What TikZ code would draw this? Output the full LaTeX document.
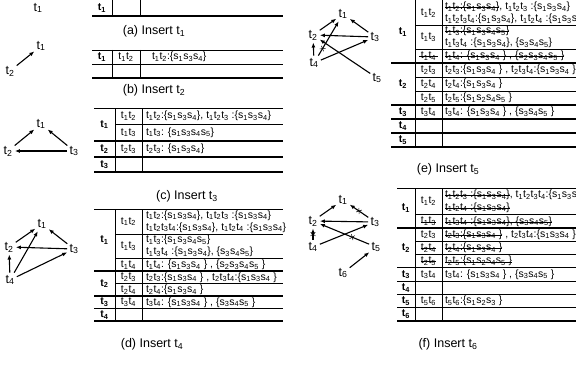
\documentclass[tikz,border=0pt]{standalone}
\usepackage{fontspec}
\setmainfont{Liberation Sans}
\usetikzlibrary{arrows.meta,decorations.markings}
\newcommand\tk[1]{t\textsubscript{#1}}
\newcommand\sk[1]{s\textsubscript{#1}}
% struck-through text
\newcommand\strk[1]{\sbox0{#1}\rlap{\rule[0.32ex]{\wd0}{0.55pt}}\usebox0}
\begin{document}
\begin{tikzpicture}[x=1pt,y=-1pt,
  every node/.style={inner sep=0pt, outer sep=0pt},
  lbl/.style={font=\fontsize{12.5}{14}\selectfont, inner sep=1.5pt},
  capn/.style={font=\fontsize{12.5}{14}\selectfont},
  txt/.style={anchor=west, font=\fontsize{10.5}{12}\selectfont},
  key/.style={font=\fontsize{10.5}{12}\selectfont},
  hd/.style={font=\bfseries\fontsize{10.5}{12}\selectfont},
  rule/.style={line width=0.7pt},
  grule/.style={line width=1.2pt},
  arr/.style={-{Latex[length=5pt,width=4pt]}, line width=1.1pt, shorten >=1pt, shorten <=1pt},
  crossed/.style={postaction={decorate}, decoration={markings, mark=at position #1 with {\draw[-, line width=0.5pt, shorten >=0pt, shorten <=0pt] (-1.8pt,-2.4pt)--(1.8pt,2.4pt) (-1.8pt,2.4pt)--(1.8pt,-2.4pt);}}}
]
\useasboundingbox (0,0) rectangle (576,369);

% ---------- (a) ----------
\node[lbl] (a1) at (38,8) {\tk1};
\draw[rule] (112,0)--(112,16) (140,0)--(140,16);
\draw[grule] (92,16)--(283,16);
\node[hd] (ta1) at (102,8) {\tk1};
\node[capn] (capa) at (154,31) {(a) Insert \tk1};

% ---------- (b) ----------
\node[lbl] (b1) at (41,46) {\tk1};
\node[lbl] (b2) at (10,71) {\tk2};
\draw[arr] (b2) -- (b1);
\draw[rule] (92,50)--(283,50) (92,64)--(283,64);
\draw[grule] (92,78)--(283,78);
\draw[rule] (112,50)--(112,78) (140,50)--(140,78);
\node[hd] (tb1) at (102,57) {\tk1};
\node[key] (tb12) at (126,57) {\tk1\tk2};
\node[txt] (tb12x) at (152,57) {\tk1\tk2:\{\sk1\sk3\sk4\}};
\node[capn] (capb) at (154,90) {(b) Insert \tk2};

% ---------- (c) ----------
\node[lbl] (c1) at (41,124) {\tk1};
\node[lbl] (c2) at (8,151) {\tk2};
\node[lbl] (c3) at (74,151) {\tk3};
\draw[arr] (c2) -- (c1);
\draw[arr] (c3) -- (c1);
\draw[arr] (c3) -- (c2);
\draw[rule] (94,108)--(283,108) (115,124)--(283,124);
\draw[grule] (94,141)--(283,141) (94,157)--(283,157) (94,172)--(283,172);
\draw[rule] (115,108)--(115,172) (142,108)--(142,172);
\node[hd] (tc1) at (104.5,124.5) {\tk1};
\node[key] (tc12) at (128.5,116) {\tk1\tk2};
\node[txt] (tc12x) at (146,116) {\tk1\tk2:\{\sk1\sk3\sk4\}, \tk1\tk2\tk3 :\{\sk1\sk3\sk4\}};
\node[key] (tc13) at (128.5,132.5) {\tk1\tk3};
\node[txt] (tc13x) at (146,132.5) {\tk1\tk3: \{\sk1\sk3\sk4\sk5\}};
\node[hd] (tc2) at (104.5,149) {\tk2};
\node[key] (tc23) at (128.5,149) {\tk2\tk3};
\node[txt] (tc23x) at (146,149) {\tk2\tk3: \{\sk1\sk3\sk4\}};
\node[hd] (tc3) at (104.5,164.5) {\tk3};
\node[capn] (capc) at (187,196) {(c) Insert \tk3};

% ---------- (d) ----------
\node[lbl] (d1) at (42,224) {\tk1};
\node[lbl] (d2) at (9,247) {\tk2};
\node[lbl] (d3) at (74,249) {\tk3};
\node[lbl] (d4) at (10,280) {\tk4};
\draw[arr] (d2) -- (d1);
\draw[arr] (d3) -- (d1);
\draw[arr] (d3) -- (d2);
\draw[arr] (d4) -- (d2);
\draw[arr] (d4) -- (d1);
\draw[arr] (d4) -- (d3);
\draw[rule] (94,209)--(283,209) (115,234)--(283,234) (115,258.5)--(283,258.5) (115,283.5)--(283,283.5);
\draw[grule] (94,271)--(283,271) (94,296)--(283,296) (94,308.5)--(283,308.5) (94,321)--(283,321);
\draw[rule] (115,209)--(115,321) (142,209)--(142,321);
\node[hd] (td1) at (104.5,240) {\tk1};
\node[key] (td12) at (128.5,221.5) {\tk1\tk2};
\node[txt] (td12x) at (146,215.5) {\tk1\tk2:\{\sk1\sk3\sk4\}, \tk1\tk2\tk3 :\{\sk1\sk3\sk4\}};
\node[txt] (td12y) at (146,227.5) {\tk1\tk2\tk3\tk4:\{\sk1\sk3\sk4\}, \tk1\tk2\tk4 :\{\sk1\sk3\sk4\}};
\node[key] (td13) at (128.5,246) {\tk1\tk3};
\node[txt] (td13x) at (146,240) {\tk1\tk3:\{\sk1\sk3\sk4\sk5\}};
\node[txt] (td13y) at (146,252) {\tk1\tk3\tk4 :\{\sk1\sk3\sk4\}, \{\sk3\sk4\sk5\}};
\node[key] (td14) at (128.5,265) {\tk1\tk4};
\node[txt] (td14x) at (146,265) {\tk1\tk4: \{\sk1\sk3\sk4 \} , \{\sk2\sk3\sk4\sk5 \}};
\node[hd] (td2) at (104.5,283.5) {\tk2};
\node[key] (td23) at (128.5,277.3) {\tk2\tk3};
\node[txt] (td23x) at (146,277.3) {\tk2\tk3:\{\sk1\sk3\sk4 \} , \tk2\tk3\tk4:\{\sk1\sk3\sk4 \}};
\node[key] (td24) at (128.5,289.8) {\tk2\tk4};
\node[txt] (td24x) at (146,289.8) {\tk2\tk4:\{\sk1\sk3\sk4 \}};
\node[hd] (td3) at (104.5,302.3) {\tk3};
\node[key] (td34) at (128.5,302.3) {\tk3\tk4};
\node[txt] (td34x) at (146,302.3) {\tk3\tk4: \{\sk1\sk3\sk4 \} , \{\sk3\sk4\sk5 \}};
\node[hd] (td4) at (104.5,314.8) {\tk4};
\node[capn] (capd) at (152,344) {(d) Insert \tk4};

% ---------- (e) ----------
\node[lbl] (e1) at (343,14) {\tk1};
\node[lbl] (e2) at (313,35) {\tk2};
\node[lbl] (e3) at (375,37) {\tk3};
\node[lbl] (e4) at (314,63) {\tk4};
\node[lbl] (e5) at (377,78) {\tk5};
\draw[arr] (e2) -- (e1);
\draw[arr] (e3) -- (e1);
\draw[arr] (e3) -- (e2);
\draw[arr] (e4) -- (e2);
\draw[arr, crossed=0.22] (e4) -- (e1);
\draw[arr] (e4) -- (e3);
\draw[arr] (e5) -- (e2);
\draw[rule] (415,25)--(577,25) (415,49)--(577,49) (415,77)--(577,77) (415,91)--(577,91);
\draw[grule] (391,63)--(577,63) (391,105)--(577,105) (391,119)--(577,119) (391,133)--(577,133) (391,147)--(577,147);
\draw[rule] (415,0)--(415,147) (442,0)--(442,147);
\node[hd] (te1) at (403,32) {\tk1};
\node[key] (te12) at (428.5,13) {\tk1\tk2};
\node[txt] (te12x) at (445,7) {\strk{\tk1\tk2:\{\sk1\sk3\sk4\}}, \tk1\tk2\tk3 :\{\sk1\sk3\sk4\}};
\node[txt] (te12y) at (445,19) {\tk1\tk2\tk3\tk4:\{\sk1\sk3\sk4\}, \tk1\tk2\tk4 :\{\sk1\sk3\sk4\}};
\node[key] (te13) at (428.5,37) {\tk1\tk3};
\node[txt] (te13x) at (445,31) {\strk{\tk1\tk3:\{\sk1\sk3\sk4\sk5\}}};
\node[txt] (te13y) at (445,43) {\tk1\tk3\tk4 :\{\sk1\sk3\sk4\}, \{\sk3\sk4\sk5\}};
\node[key] (te14) at (428.5,56) {\strk{\,\tk1\tk4\,}};
\node[txt] (te14x) at (445,56) {\strk{\tk1\tk4: \{\sk1\sk3\sk4 \} , \{\sk2\sk3\sk4\sk5 \}}};
\node[hd] (te2) at (403,84) {\tk2};
\node[key] (te23) at (428.5,70) {\tk2\tk3};
\node[txt] (te23x) at (445,70) {\tk2\tk3:\{\sk1\sk3\sk4 \} , \tk2\tk3\tk4:\{\sk1\sk3\sk4 \}};
\node[key] (te24) at (428.5,84) {\tk2\tk4};
\node[txt] (te24x) at (445,84) {\tk2\tk4:\{\sk1\sk3\sk4 \}};
\node[key] (te25) at (428.5,98) {\tk2\tk5};
\node[txt] (te25x) at (445,98) {\tk2\tk5:\{\sk1\sk2\sk4\sk5 \}};
\node[hd] (te3) at (403,112) {\tk3};
\node[key] (te34) at (428.5,112) {\tk3\tk4};
\node[txt] (te34x) at (445,112) {\tk3\tk4: \{\sk1\sk3\sk4 \} , \{\sk3\sk4\sk5 \}};
\node[hd] (te4) at (403,126) {\tk4};
\node[hd] (te5) at (403,140) {\tk5};
\node[capn] (cape) at (448,169) {(e) Insert \tk5};

% ---------- (f) ----------
\node[lbl] (f1) at (343,200) {\tk1};
\node[lbl] (f2) at (313,221) {\tk2};
\node[lbl] (f3) at (375,222) {\tk3};
\node[lbl] (f4) at (313,247) {\tk4};
\node[lbl] (f5) at (376,247) {\tk5};
\node[lbl] (f6) at (343,273) {\tk6};
\draw[arr] (f2) -- (f1);
\draw[arr, crossed=0.5] (f3) -- (f1);
\draw[arr] (f3) -- (f2);
\draw[arr, crossed=0.5] (f4) -- (f2);
\draw[arr] (f4) -- (f3);
\draw[arr, crossed=0.35] (f5) -- (f2);
\draw[arr] (f6) -- (f5);
\draw[rule] (397,188)--(577,188) (415,214.5)--(577,214.5) (415,241.2)--(577,241.2) (415,254.5)--(577,254.5);
\draw[grule] (397,228)--(577,228) (397,267.8)--(577,267.8) (397,281.1)--(577,281.1) (397,294.4)--(577,294.4) (397,307.7)--(577,307.7) (397,321)--(577,321);
\draw[rule] (415,188)--(415,321) (442,188)--(442,321);
\node[hd] (tf1) at (406,208) {\tk1};
\node[key] (tf12) at (428.5,201.2) {\tk1\tk2};
\node[txt] (tf12x) at (445,195) {\strk{\tk1\tk2\tk3 :\{\sk1\sk3\sk4\}}, \tk1\tk2\tk3\tk4:\{\sk1\sk3\sk4\}};
\node[txt] (tf12y) at (445,207.3) {\strk{\tk1\tk2\tk4 :\{\sk1\sk3\sk4\}}};
\node[key] (tf13) at (428.5,221.3) {\strk{\tk1\tk3}};
\node[txt] (tf13x) at (445,221.3) {\strk{\tk1\tk3\tk4 :\{\sk1\sk3\sk4\}, \{\sk3\sk4\sk5\}}};
\node[hd] (tf2) at (406,247.9) {\tk2};
\node[key] (tf23) at (428.5,234.6) {\tk2\tk3};
\node[txt] (tf23x) at (445,234.6) {\strk{\tk2\tk3:\{\sk1\sk3\sk4 \}} , \tk2\tk3\tk4:\{\sk1\sk3\sk4 \}};
\node[key] (tf24) at (428.5,247.9) {\strk{\tk2\tk4}};
\node[txt] (tf24x) at (445,247.9) {\strk{\tk2\tk4:\{\sk1\sk3\sk4 \}}};
\node[key] (tf25) at (428.5,261.2) {\strk{\tk2\tk5}};
\node[txt] (tf25x) at (445,261.2) {\strk{\tk2\tk5:\{\sk1\sk2\sk4\sk5 \}}};
\node[hd] (tf3) at (406,274.5) {\tk3};
\node[key] (tf34) at (428.5,274.5) {\tk3\tk4};
\node[txt] (tf34x) at (445,274.5) {\tk3\tk4: \{\sk1\sk3\sk4 \} , \{\sk3\sk4\sk5 \}};
\node[hd] (tf4) at (406,287.8) {\tk4};
\node[hd] (tf5) at (406,301) {\tk5};
\node[key] (tf56) at (428.5,301) {\tk5\tk6};
\node[txt] (tf56x) at (445,301) {\tk5\tk6:\{\sk1\sk2\sk3 \}};
\node[hd] (tf6) at (406,314.4) {\tk6};
\node[capn] (capf) at (448,344) {(f) Insert \tk6};
\end{tikzpicture}
\end{document}
